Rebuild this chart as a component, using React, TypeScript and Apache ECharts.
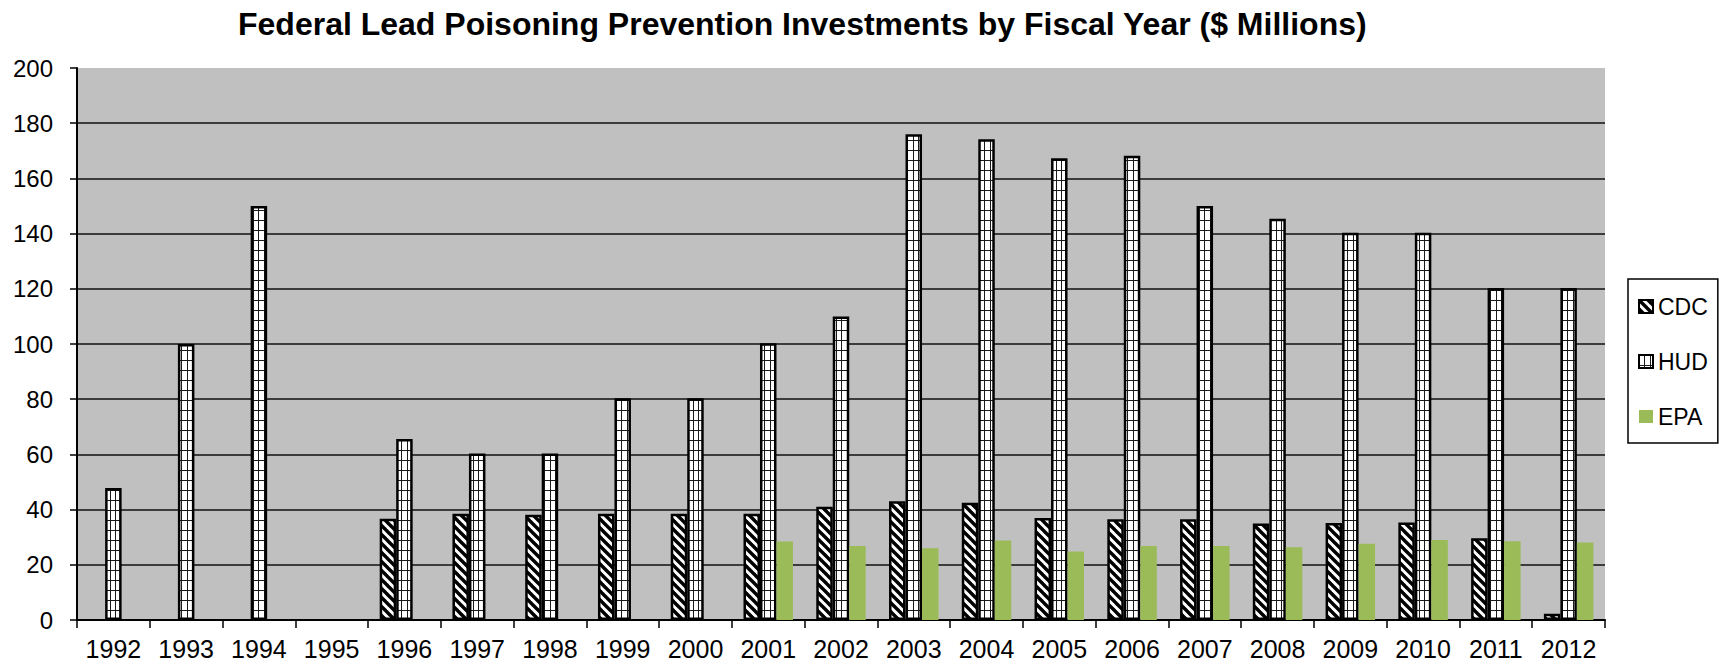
import React, { useEffect, useRef } from "react";
import * as echarts from "echarts";

const years = ["1992","1993","1994","1995","1996","1997","1998","1999","2000","2001","2002","2003","2004","2005","2006","2007","2008","2009","2010","2011","2012"];
const cdcValues = [null, null, null, null, 36.7, 38.5, 38.1, 38.5, 38.5, 38.5, 41, 43, 42.5, 37, 36.5, 36.5, 35, 35.1, 35.3, 29.6, 2.3];
const hudValues = [47.8, 100, 150, null, 65.6, 60.3, 60.3, 80.3, 80.3, 100.3, 110, 176, 174.2, 167.3, 168.2, 150, 145.4, 140.3, 140.3, 120.3, 120.3];
const epaValues = [null, null, null, null, null, null, null, null, null, 28.4, 26.8, 26, 28.8, 24.8, 26.8, 26.8, 26.4, 27.6, 29, 28.5, 28.1];
const yTicks = [0, 20, 40, 60, 80, 100, 120, 140, 160, 180, 200];

const FONT = "'Liberation Sans', Arial, sans-serif";

function stripeTile() {
  const c = document.createElement("canvas");
  const s = 9;
  c.width = s;
  c.height = s;
  const ctx = c.getContext("2d")!;
  ctx.fillStyle = "#ffffff";
  ctx.fillRect(0, 0, s, s);
  ctx.strokeStyle = "#000000";
  ctx.lineWidth = 3.4;
  for (let k = -2; k <= 2; k++) {
    ctx.beginPath();
    ctx.moveTo(k * s - s, -s);
    ctx.lineTo(k * s + 2 * s, 2 * s);
    ctx.stroke();
  }
  return c;
}

function gridTile() {
  const c = document.createElement("canvas");
  c.width = 11;
  c.height = 10;
  const ctx = c.getContext("2d")!;
  ctx.fillStyle = "#ffffff";
  ctx.fillRect(0, 0, 11, 10);
  ctx.fillStyle = "#1a1a1a";
  ctx.fillRect(0, 0, 1, 10);
  ctx.fillRect(5, 0, 1, 10);
  ctx.fillRect(0, 0, 11, 1);
  return c;
}

export default function App() {
  const ref = useRef<HTMLDivElement>(null);
  useEffect(() => {
    if (!ref.current) return;
    const chart = echarts.init(ref.current, null, { renderer: "svg" });
    const stripe = { image: stripeTile(), repeat: "repeat" };
    const grid = { image: gridTile(), repeat: "repeat" };
    const splitColors = yTicks.map((v) => (v === 200 ? "rgba(0,0,0,0)" : "#111111"));
    chart.setOption({
      animation: false,
      backgroundColor: "#ffffff",
      title: {
        text: "Federal Lead Poisoning Prevention Investments by Fiscal Year ($ Millions)",
        left: 233,
        top: 3,
        textStyle: { fontFamily: FONT, fontSize: 32, fontWeight: "bold", color: "#000" },
      },
      legend: {
        orient: "vertical",
        left: 1628,
        top: 279,
        padding: [16, 10, 15, 10],
        itemGap: 32,
        itemWidth: 14,
        itemHeight: 13,
        icon: "rect",
        backgroundColor: "#ffffff",
        borderColor: "#000",
        borderWidth: 1.5,
        borderRadius: 0,
        textStyle: { fontFamily: FONT, fontSize: 23, color: "#000" },
        data: ["CDC", "HUD", "EPA"],
      },
      grid: {
        left: 77,
        top: 68,
        right: 114,
        bottom: 48,
        show: true,
        backgroundColor: "#C0C0C0",
        borderWidth: 0,
      },
      xAxis: {
        type: "category",
        data: years,
        boundaryGap: true,
        axisLine: { show: true, lineStyle: { color: "#000", width: 2 } },
        axisTick: { show: true, alignWithLabel: false, length: 8, lineStyle: { color: "#000", width: 1.5 } },
        axisLabel: { fontFamily: FONT, fontSize: 25, color: "#000", margin: 16, interval: 0 },
      },
      yAxis: {
        type: "value",
        min: 0,
        max: 200,
        interval: 20,
        axisLine: { show: true, lineStyle: { color: "#000", width: 2 } },
        axisTick: { show: true, length: 7, lineStyle: { color: "#000", width: 1.5 } },
        axisLabel: { fontFamily: FONT, fontSize: 24, color: "#000", margin: 24 },
        splitLine: { show: true, lineStyle: { color: splitColors, width: 1.6 } },
      },
      series: [
        {
          name: "CDC",
          type: "bar",
          data: cdcValues,
          barGap: "0%",
          barCategoryGap: "32%",
          itemStyle: { color: stripe, borderColor: "#000", borderWidth: 2.5 },
        },
        {
          name: "HUD",
          type: "bar",
          data: hudValues,
          barGap: "0%",
          barCategoryGap: "32%",
          itemStyle: { color: grid, borderColor: "#000", borderWidth: 2.5 },
        },
        {
          name: "EPA",
          type: "bar",
          data: epaValues,
          barGap: "0%",
          barCategoryGap: "32%",
          itemStyle: { color: "#9BBB59", borderWidth: 0 },
        },
      ],
    });
    return () => chart.dispose();
  }, []);
  return (
    <div
      ref={ref}
      style={{ position: "fixed", left: 0, top: 0, width: 1719, height: 668 }}
    />
  );
}
